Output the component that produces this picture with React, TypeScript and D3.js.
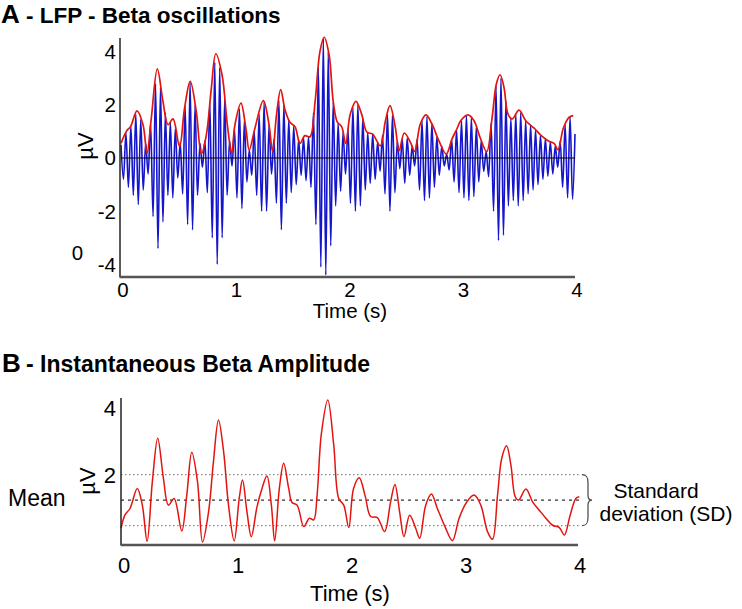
import React from 'react';
import * as d3 from 'd3';

// ---------- data ----------
const xTicks = [0, 1, 2, 3, 4];
const aYTicks = [4, 2, 0, -2, -4];
const bYTicks = [4, 2];

// Panel A: beta envelope (red)
const aEnvTime = [0, 0.047, 0.085, 0.141, 0.194, 0.229, 0.267, 0.32, 0.37, 0.414, 0.458, 0.516, 0.56, 0.61, 0.663, 0.708, 0.752, 0.796, 0.835, 0.89, 0.937, 0.975, 1.004, 1.057, 1.1, 1.13, 1.18, 1.254, 1.3, 1.336, 1.37, 1.407, 1.445, 1.49, 1.533, 1.577, 1.62, 1.665, 1.71, 1.753, 1.79, 1.833, 1.87, 1.906, 1.944, 1.98, 2.02, 2.07, 2.12, 2.167, 2.217, 2.285, 2.33, 2.37, 2.417, 2.45, 2.496, 2.55, 2.587, 2.637, 2.687, 2.74, 2.8, 2.866, 2.916, 2.96, 2.993, 3.057, 3.11, 3.163, 3.222, 3.27, 3.307, 3.34, 3.374, 3.41, 3.447, 3.507, 3.566, 3.64, 3.703, 3.77, 3.815, 3.85, 3.897, 3.947, 3.985];
const aEnvValue = [0.55, 1.0, 1.19, 1.77, 1.25, 0.18, 1.5, 3.35, 2.12, 1.25, 1.47, 0.43, 1.87, 2.88, 1.75, 0.15, 0.87, 2.63, 3.92, 3.13, 1.25, 0.18, 1.25, 2.06, 1.12, 0.3, 1.12, 2.16, 1.37, 0.24, 1.62, 2.57, 1.81, 1.33, 1.18, 0.55, 0.84, 0.8, 2.12, 4.01, 4.54, 3.89, 2.12, 1.35, 1.18, 0.55, 1.65, 2.13, 1.65, 0.97, 0.9, 0.46, 1.4, 1.97, 1.15, 0.27, 0.94, 0.59, 0.25, 1.28, 1.62, 1.28, 0.65, 0.15, 0.71, 1.1, 1.4, 1.62, 1.4, 0.78, 0.24, 1.53, 2.78, 3.13, 2.66, 1.65, 1.47, 1.8, 1.4, 1.12, 0.84, 0.63, 0.55, 0.31, 1.12, 1.53, 1.59];

// Panel A: LFP beta oscillation, successive peaks and troughs (one value per half cycle)
const lfpHalfCycle = 1 / 46;
const lfpExtrema = [
  0.5, -0.8, 0.95, -1.1, 1.2, -1.4, 1.65, -1.75, 1.45, -1.2,
  0.55, -0.6, 1.3, -2.2, 2.8, -3.4, 2.65, -2.4, 1.7, -1.4,
  1.35, -1.5, 1.1, -0.75, 0.6, -1.35, 1.95, -2.5, 2.85, -2.7,
  2.0, -1.4, 0.55, -0.35, 0.65, -1.3, 2.1, -3.0, 3.6, -4.0,
  3.4, -3.0, 2.2, -1.4, 0.65, -0.3, 1.1, -1.5, 1.85, -1.9,
  1.4, -0.9, 0.3, -0.65, 1.0, -1.4, 1.65, -2.0, 2.1, -2.0,
  1.25, -0.6, 0.7, -1.7, 2.15, -2.7, 2.0, -1.7, 1.45, -1.3,
  1.2, -1.0, 0.7, -0.65, 0.75, -0.85, 0.8, -1.1, 1.7, -2.5,
  3.4, -4.1, 4.5, -4.4, 4.0, -3.3, 2.1, -1.8, 1.3, -1.25,
  0.95, -0.6, 1.1, -1.7, 1.9, -2.0, 2.0, -1.8, 1.5, -1.2,
  0.95, -0.95, 0.9, -0.8, 0.6, -0.5, 0.85, -1.35, 1.65, -2.0,
  1.6, -1.3, 0.65, -0.4, 0.7, -0.95, 0.75, -0.65, 0.45, -0.3,
  0.7, -1.2, 1.4, -1.6, 1.55, -1.5, 1.3, -1.1, 0.8, -0.65,
  0.45, -0.3, 0.15, -0.45, 0.7, -0.9, 1.05, -1.3, 1.4, -1.5,
  1.6, -1.6, 1.5, -1.45, 1.15, -0.9, 0.65, -0.5, 0.25, -0.7,
  1.3, -2.0, 2.7, -3.1, 3.0, -2.9, 2.15, -1.8, 1.5, -1.6,
  1.65, -1.8, 1.7, -1.6, 1.4, -1.35, 1.25, -1.2, 1.05, -1.0,
  0.85, -0.8, 0.72, -0.68, 0.6, -0.6, 0.45, -0.35, 0.65, -1.1,
  1.25, -1.5, 1.55, -1.55, 0.9,
];

// Panel B: instantaneous beta amplitude
const bTime = [0, 0.035, 0.079, 0.143, 0.187, 0.229, 0.275, 0.322, 0.372, 0.416, 0.466, 0.533, 0.577, 0.621, 0.671, 0.715, 0.768, 0.811, 0.855, 0.9, 0.943, 0.993, 1.037, 1.066, 1.105, 1.143, 1.193, 1.237, 1.28, 1.319, 1.348, 1.389, 1.427, 1.471, 1.5, 1.545, 1.603, 1.653, 1.69, 1.72, 1.758, 1.814, 1.866, 1.91, 1.954, 1.998, 2.04, 2.09, 2.14, 2.19, 2.248, 2.312, 2.365, 2.403, 2.444, 2.482, 2.532, 2.585, 2.62, 2.673, 2.723, 2.775, 2.842, 2.907, 2.966, 3.03, 3.097, 3.156, 3.215, 3.259, 3.303, 3.34, 3.382, 3.42, 3.458, 3.487, 3.552, 3.61, 3.669, 3.727, 3.786, 3.845, 3.889, 3.94, 3.99, 4.02];
const bAmp = [0.41, 0.81, 1.0, 1.6, 1.1, 0.02, 1.8, 3.1, 1.9, 1.1, 1.3, 0.33, 1.4, 2.68, 1.8, 0.0, 0.9, 2.4, 3.64, 2.7, 1.1, 0.03, 1.3, 1.85, 0.9, 0.16, 1.05, 1.6, 1.97, 1.1, 0.03, 1.6, 2.35, 1.6, 1.18, 1.1, 0.46, 0.71, 0.66, 1.4, 3.24, 4.24, 2.9, 1.3, 1.1, 0.43, 1.6, 1.92, 1.4, 0.76, 0.73, 0.31, 1.2, 1.72, 0.9, 0.16, 0.8, 0.41, 0.11, 1.1, 1.43, 1.0, 0.46, 0.04, 0.71, 1.18, 1.4, 1.1, 0.31, 0.08, 1.4, 2.5, 2.87, 2.3, 1.35, 1.25, 1.58, 1.2, 0.95, 0.71, 0.5, 0.43, 0.21, 0.8, 1.3, 1.35];
const bMean = 1.25;
const bSD = 0.76;

// ---------- layout ----------
const W = 742;
const H = 609;
const FONT = 'Liberation Sans, Arial, Helvetica, sans-serif';

const xA = d3.scaleLinear().domain([0, 4]).range([121, 575]);
const yA = d3.scaleLinear().domain([-4, 4]).range([264.4, 51.6]);
const xB = d3.scaleLinear().domain([0, 4]).range([121, 577]);
const yB = d3.scaleLinear().domain([0, 4]).range([542, 408]);

export default function App() {
  const envA = aEnvTime.map((t, i) => [t, aEnvValue[i]] as [number, number]);
  const lfp = lfpExtrema.map((v, i) => [i * lfpHalfCycle, v] as [number, number]);
  const ampB = bTime.map((t, i) => [t, bAmp[i]] as [number, number]);

  const redLineA = d3.line<[number, number]>().x(d => xA(d[0])).y(d => yA(d[1])).curve(d3.curveCatmullRom.alpha(0.5));
  const blueLine = d3.line<[number, number]>().x(d => xA(d[0])).y(d => yA(d[1])).curve(d3.curveMonotoneX);
  const redLineB = d3.line<[number, number]>().x(d => xB(d[0])).y(d => yB(d[1])).curve(d3.curveCatmullRom.alpha(0.5));

  const up = yB(bMean + bSD);
  const mid = yB(bMean);
  const lo = yB(bMean - bSD);
  const bx = 582;
  const brace = `M${bx},${up} C${bx + 5},${up} ${bx + 6},${up + 3} ${bx + 6},${up + 8} L${bx + 6},${mid - 5} C${bx + 6},${mid - 1} ${bx + 8},${mid} ${bx + 10},${mid} C${bx + 8},${mid} ${bx + 6},${mid + 1} ${bx + 6},${mid + 5} L${bx + 6},${lo - 8} C${bx + 6},${lo - 3} ${bx + 5},${lo} ${bx},${lo}`;

  return (
    <svg width={W} height={H} style={{ position: 'absolute', left: 0, top: 0, background: '#fff' }} fontFamily={FONT}>
      <rect x={0} y={0} width={W} height={H} fill="#fff" />
      {/* ---------- Panel A ---------- */}
      <text x={1} y={23} fontSize={26} fontWeight="bold" fill="#000">A</text>
      <text x={26} y={23} fontSize={22.5} fontWeight="bold" fill="#000">- LFP - Beta oscillations</text>

      <path d={blueLine(lfp) || ''} fill="none" stroke="#1515cc" strokeWidth={1.6} />
      <line x1={xA(0)} x2={xA(4)} y1={yA(0)} y2={yA(0)} stroke="#000" strokeWidth={1} />
      <path d={redLineA(envA) || ''} fill="none" stroke="#e3140f" strokeWidth={1.7} />

      <line x1={120} x2={120} y1={38} y2={277} stroke="#222" strokeWidth={1.5} />
      <line x1={119.5} x2={xA(4)} y1={277} y2={277} stroke="#555" strokeWidth={2.5} />

      {aYTicks.map(v => (
        <text key={'ay' + v} x={116} y={yA(v)} dy="0.36em" textAnchor="end" fontSize={20.5} fill="#000">{v}</text>
      ))}
      {xTicks.map(v => (
        <text key={'ax' + v} x={xA(v) + 2} y={297} textAnchor="middle" fontSize={20.5} fill="#000">{v}</text>
      ))}
      <text x={77.5} y={253} dy="0.36em" textAnchor="middle" fontSize={20.5} fill="#000">0</text>
      <text transform={`translate(93,146) rotate(-90)`} textAnchor="middle" fontSize={22} fill="#000">µV</text>
      <text x={350} y={318} textAnchor="middle" fontSize={20.5} fill="#000">Time (s)</text>

      {/* ---------- Panel B ---------- */}
      <text x={2} y={372} fontSize={26} fontWeight="bold" fill="#000">B</text>
      <text x={26} y={372} fontSize={23} fontWeight="bold" fill="#000" textLength={344} lengthAdjust="spacingAndGlyphs">- Instantaneous Beta Amplitude</text>

      <line x1={xB(0)} x2={581} y1={up} y2={up} stroke="#8a8a8a" strokeWidth={1.2} strokeDasharray="1.5,2.5" />
      <line x1={xB(0)} x2={581} y1={lo} y2={lo} stroke="#8a8a8a" strokeWidth={1.2} strokeDasharray="1.5,2.5" />
      <line x1={xB(0)} x2={581} y1={mid} y2={mid} stroke="#333" strokeWidth={1.3} strokeDasharray="3,4" />

      <path d={redLineB(ampB) || ''} fill="none" stroke="#e3140f" strokeWidth={1.5} />

      <line x1={121} x2={121} y1={398} y2={545} stroke="#222" strokeWidth={1.5} />
      <line x1={120.5} x2={578} y1={545} y2={545} stroke="#555" strokeWidth={2.5} />

      {bYTicks.map(v => (
        <text key={'by' + v} x={116} y={yB(v)} dy="0.36em" textAnchor="end" fontSize={22} fill="#000">{v}</text>
      ))}
      {xTicks.map(v => (
        <text key={'bx' + v} x={xB(v) + 3} y={573} textAnchor="middle" fontSize={22} fill="#000">{v}</text>
      ))}
      <text transform={`translate(95,481) rotate(-90)`} textAnchor="middle" fontSize={22} fill="#000">µV</text>
      <text x={350} y={601} textAnchor="middle" fontSize={22} fill="#000">Time (s)</text>
      <text x={8} y={498} dy="0.36em" fontSize={23} fill="#000">Mean</text>

      <path d={brace} fill="none" stroke="#444" strokeWidth={1.2} />
      <text x={656} y={490} dy="0.36em" textAnchor="middle" fontSize={21} fill="#000">Standard</text>
      <text x={666} y={513} dy="0.36em" textAnchor="middle" fontSize={21} fill="#000">deviation (SD)</text>
    </svg>
  );
}
